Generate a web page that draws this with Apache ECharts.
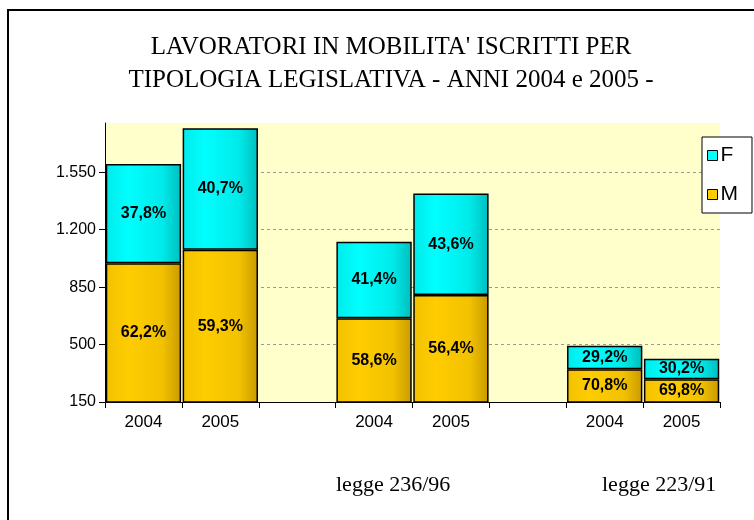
<!DOCTYPE html>
<html>
<head>
<meta charset="utf-8">
<script src="https://cdn.jsdelivr.net/npm/echarts@6/dist/echarts.min.js"></script>
<style>
  html, body { margin: 0; padding: 0; background: #fff; }
  #main { width: 754px; height: 520px; }
</style>
</head>
<body>
<div id="main"></div>
<script>
var categories = ['2004', '2005', '', '2004', '2005', '', '2004', '2005'];
var maschi = [995, 1078, null, 660, 802, null, 349, 289];
var femmine = [605, 740, null, 466, 619, null, 144, 125];
var yTicks = [150, 500, 850, 1200, 1550];
var groupLabels = ['legge 236/96', 'legge 223/91'];

var myChart = echarts.init(document.getElementById('main'));

function pct(a, b) {
    // percentuale con la virgola
    return (a / (a + b) * 100).toFixed(1).replace('.', ',') + '%';
}

function grad(c1, c2, c3) {
    return new echarts.graphic.LinearGradient(0, 0, 1, 0, [
        { offset: 0, color: c2 },
        { offset: 0.3, color: c1 },
        { offset: 0.75, color: c2 },
        { offset: 1, color: c3 }
    ]);
}

var labelStyle = {
    show: true,
    position: 'inside',
    color: '#000',
    fontFamily: 'Liberation Sans',
    fontWeight: 'bold',
    fontSize: 16
};

var option = {
    animation: false,
    backgroundColor: '#fff',
    title: {
        text: 'LAVORATORI IN MOBILITA\' ISCRITTI PER\nTIPOLOGIA LEGISLATIVA - ANNI 2004 e 2005 -',
        left: 386,
        textAlign: 'center',
        top: 26,
        textStyle: {
            fontFamily: 'Liberation Serif',
            fontWeight: 'normal',
            fontSize: 25,
            lineHeight: 33,
            color: '#000'
        }
    },
    legend: {
        orient: 'vertical',
        left: 702,
        top: 137,
        padding: [8, 14, 8, 5],
        itemGap: 18,
        itemWidth: 10,
        itemHeight: 10,
        borderColor: '#000',
        borderWidth: 1,
        backgroundColor: '#fff',
        textStyle: { fontFamily: 'Liberation Sans', fontSize: 21, color: '#000', padding: [0, 0, 0, -2] },
        data: [
            { name: 'F', icon: 'rect', itemStyle: { color: '#00FFFF', borderColor: '#000', borderWidth: 1 } },
            { name: 'M', icon: 'rect', itemStyle: { color: '#FFCC00', borderColor: '#000', borderWidth: 1 } }
        ]
    },
    grid: {
        left: 105,
        right: 34,
        top: 123,
        bottom: 118,
        show: true,
        backgroundColor: '#FFFFCC',
        borderWidth: 0
    },
    xAxis: {
        type: 'category',
        data: categories,
        axisLine: { lineStyle: { color: '#000', width: 1 } },
        axisTick: { show: true, length: 6, lineStyle: { color: '#000' } },
        axisLabel: { color: '#000', fontFamily: 'Liberation Sans', fontSize: 17, margin: 12, interval: 0 }
    },
    yAxis: {
        type: 'value',
        min: 150,
        max: 1850,
        interval: 350,
        axisLine: { show: true, lineStyle: { color: '#000', width: 1 } },
        axisTick: { show: true, length: 6, lineStyle: { color: '#000' } },
        axisLabel: {
            color: '#000',
            fontFamily: 'Liberation Sans',
            fontSize: 16,
            margin: 9,
            showMaxLabel: false,
            formatter: function (v) {
                return v >= 1000 ? String(v).replace(/(\d)(\d{3})$/, '$1.$2') : String(v);
            }
        },
        splitLine: { showMaxLine: false, lineStyle: { color: '#9a9a9a', type: [3, 3], width: 1 } }
    },
    series: [
        {
            name: 'M',
            type: 'bar',
            stack: 'tot',
            barCategoryGap: '2%',
            data: maschi,
            itemStyle: {
                color: grad('#FFCC00', '#F2C200', '#C99A00'),
                borderColor: '#000',
                borderWidth: 1.5
            },
            label: Object.assign({}, labelStyle, {
                formatter: function (p) { return pct(maschi[p.dataIndex], femmine[p.dataIndex]); }
            })
        },
        {
            name: 'F',
            type: 'bar',
            stack: 'tot',
            data: femmine,
            itemStyle: {
                color: grad('#00FFFF', '#00EAEA', '#00BDBD'),
                borderColor: '#000',
                borderWidth: 1.5
            },
            label: Object.assign({}, labelStyle, {
                formatter: function (p) { return pct(femmine[p.dataIndex], maschi[p.dataIndex]); }
            })
        }
    ],
    graphic: [
        {
            type: 'rect',
            shape: { x: 8, y: 10, width: 800, height: 600 },
            style: { fill: 'none', stroke: '#000', lineWidth: 2 },
            silent: true
        },
        {
            type: 'text',
            left: 336,
            top: 474,
            style: { text: groupLabels[0], font: '22px "Liberation Serif"', fill: '#000' }
        },
        {
            type: 'text',
            left: 602,
            top: 474,
            style: { text: groupLabels[1], font: '22px "Liberation Serif"', fill: '#000' }
        }
    ]
};

myChart.setOption(option);
</script>
</body>
</html>
